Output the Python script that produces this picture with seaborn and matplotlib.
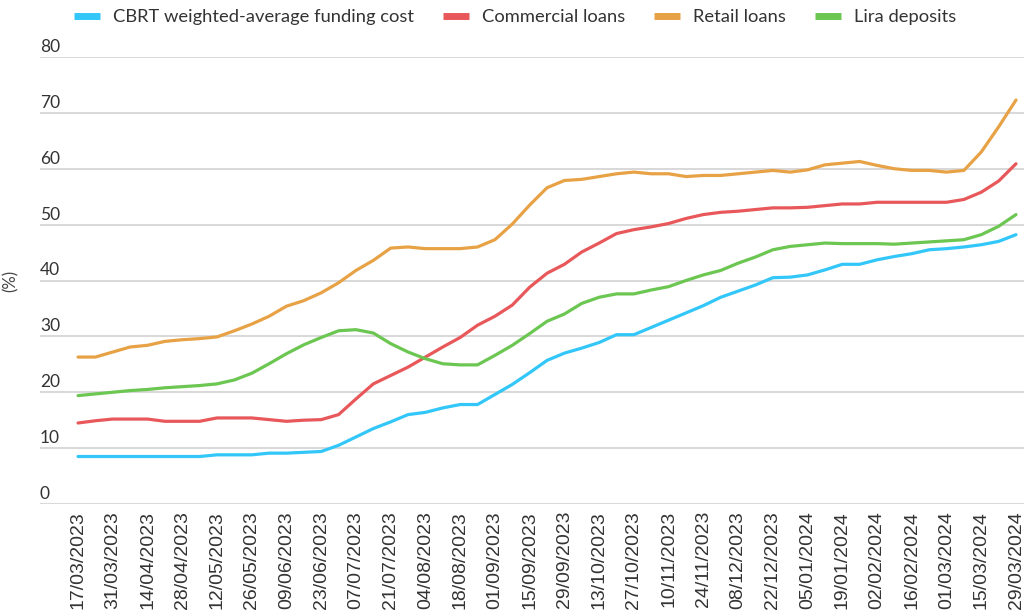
import numpy as np
import pandas as pd
import matplotlib.pyplot as plt
import seaborn as sns

# Data: weekly observations, 17/03/2023 - 29/03/2024
dates = pd.date_range('2023-03-17', periods=55, freq='7D')

cbrt = [8.5, 8.5, 8.5, 8.5, 8.5, 8.5, 8.5, 8.5, 8.8, 8.8, 8.8, 9.1, 9.1, 9.25,
        9.4, 10.5, 12.0, 13.5, 14.7, 16.0, 16.4, 17.2, 17.8, 17.8, 19.6, 21.4, 23.5, 25.7,
        27.0, 27.9, 28.9, 30.3, 30.3, 31.6, 32.9, 34.2, 35.5, 37.0, 38.1, 39.2, 40.5, 40.6,
        41.0, 41.9, 42.9, 42.9, 43.7, 44.3, 44.8, 45.5, 45.7, 46.0, 46.4, 47.0, 48.2]
commercial = [14.5, 14.9, 15.2, 15.2, 15.2, 14.8, 14.8, 14.8, 15.4, 15.4, 15.4, 15.1, 14.8,
              15.0, 15.1, 16.0, 18.8, 21.5, 23.0, 24.5, 26.3, 28.1, 29.8, 32.0, 33.6, 35.6, 38.8, 41.3,
              42.9, 45.1, 46.7, 48.4, 49.1, 49.6, 50.2, 51.1, 51.8, 52.2, 52.4, 52.7, 53.0, 53.0,
              53.1, 53.4, 53.7, 53.7, 54.0, 54.0, 54.0, 54.0, 54.0, 54.5, 55.8, 57.8, 60.9]
retail = [26.3, 26.3, 27.2, 28.1, 28.4, 29.1, 29.4, 29.6, 29.9, 31.0, 32.2, 33.6, 35.4, 36.4,
          37.8, 39.6, 41.8, 43.6, 45.8, 46.0, 45.7, 45.7, 45.7, 46.0, 47.3, 50.1, 53.5, 56.6,
          57.9, 58.1, 58.6, 59.1, 59.4, 59.1, 59.1, 58.6, 58.8, 58.8, 59.1, 59.4, 59.7, 59.4,
          59.8, 60.7, 61.0, 61.3, 60.6, 60.0, 59.7, 59.7, 59.4, 59.7, 63.0, 67.5, 72.3]
deposits = [19.4, 19.7, 20.0, 20.3, 20.5, 20.8, 21.0, 21.2, 21.5, 22.2, 23.4, 25.1, 26.9, 28.5,
            29.8, 31.0, 31.2, 30.6, 28.7, 27.2, 26.0, 25.1, 24.9, 24.9, 26.6, 28.4, 30.5, 32.7,
            34.0, 35.9, 37.0, 37.6, 37.6, 38.3, 38.9, 40.0, 41.0, 41.8, 43.1, 44.2, 45.5, 46.1,
            46.4, 46.7, 46.6, 46.6, 46.6, 46.5, 46.7, 46.9, 47.1, 47.3, 48.2, 49.7, 51.8]

series_names = ['CBRT weighted-average funding cost', 'Commercial loans',
                'Retail loans', 'Lira deposits']
colors = ['#33C7F9', '#E8585A', '#E8A246', '#6CC652']
y_ticks = [0, 10, 20, 30, 40, 50, 60, 70, 80]

# Long-form table for seaborn
df = pd.DataFrame({
    'Date': np.tile(dates, 4),
    'Value': cbrt + commercial + retail + deposits,
    'Series': np.repeat(series_names, len(dates)),
})

sns.set_theme(style='white')
plt.rcParams['font.family'] = ['Lato', 'DejaVu Sans']

fig = plt.figure(figsize=(10.24, 6.15), dpi=100)
ax = fig.add_axes([40 / 1024, 111 / 615, 984 / 1024, 447 / 615])

sns.lineplot(data=df, x='Date', y='Value', hue='Series', hue_order=series_names,
             palette=dict(zip(series_names, colors)), linewidth=2.3, ax=ax,
             legend=False)

# Axes ranges
week = pd.Timedelta(days=7)
ax.set_xlim(dates[0] - 2.19 * week, dates[-1] + 0.46 * week)
ax.set_ylim(0, 80)

# Horizontal grid only
ax.set_yticks(y_ticks)
ax.set_yticklabels([])
ax.tick_params(axis='y', length=0)
ax.grid(axis='y', color='#D6D6D6', linewidth=1.3)
ax.grid(axis='x', visible=False)
for s in ax.spines.values():
    s.set_visible(False)

# y labels sit above the gridlines, left aligned
for t in y_ticks:
    ax.annotate(str(t), xy=(0, t), xycoords=('axes fraction', 'data'),
                xytext=(0, 1.5), textcoords='offset points',
                ha='left', va='bottom', fontsize=12.5, color='#333333')

ax.set_ylabel('(%)', fontsize=12, color='#444444')
ax.yaxis.set_label_coords(-0.022, 0.5)
ax.set_xlabel('')

# x labels every two weeks
ax.set_xticks(dates[::2])
ax.set_xticklabels([d.strftime('%d/%m/%Y') for d in dates[::2]], rotation=90,
                   fontsize=14, color='#333333', family='Liberation Sans')
ax.tick_params(axis='x', length=0, pad=5)

# Legend on top
handles = [plt.Line2D([], [], color=c, linewidth=5, solid_capstyle='butt') for c in colors]
fig.legend(handles, series_names, loc='center', bbox_to_anchor=(0.503, 0.972), ncol=4,
           frameon=False, fontsize=13.2, handlelength=1.4, columnspacing=1.6,
           handletextpad=0.7, labelcolor='#333333')

plt.savefig('out.png', dpi=100)
